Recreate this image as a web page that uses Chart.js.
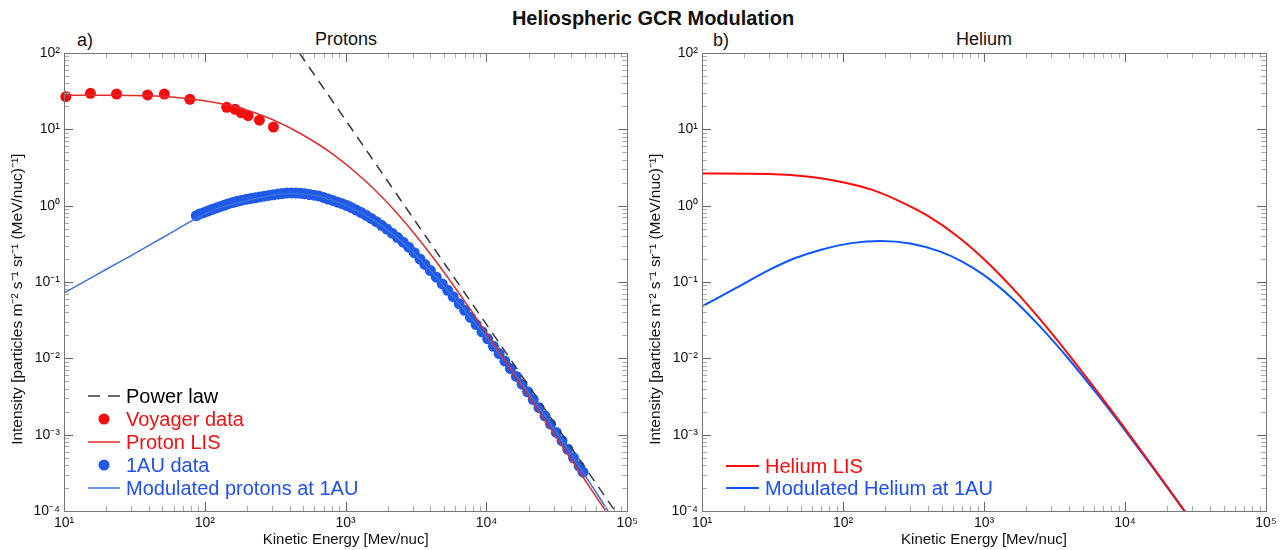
<!DOCTYPE html>
<html>
<head>
<meta charset="utf-8">
<script src="https://cdn.jsdelivr.net/npm/chart.js@4.4.1/dist/chart.umd.min.js"></script>
<style>
  body { margin: 0; background: #fff; width: 1284px; height: 550px; overflow: hidden; position: relative;
         font-family: 'Liberation Sans', Arial, sans-serif; }
  .panel { position: absolute; top: 0; width: 642px; height: 550px; }
  .txt { position: absolute; white-space: nowrap; color: #111; line-height: 1; }
</style>
</head>
<body>
<div class="txt" style="left:453px;width:400px;text-align:center;top:8px;font-size:20px;font-weight:bold;">Heliospheric GCR Modulation</div>
<div class="txt" style="left:77px;top:31px;font-size:18px;">a)</div>
<div class="txt" style="left:246px;width:200px;text-align:center;top:30px;font-size:18px;">Protons</div>
<div class="txt" style="left:713px;top:31px;font-size:18px;">b)</div>
<div class="txt" style="left:884px;width:200px;text-align:center;top:30px;font-size:18px;">Helium</div>
<div class="panel" style="left:0"><canvas id="protons" width="642" height="550"></canvas></div>
<div class="panel" style="left:642px"><canvas id="helium" width="642" height="550"></canvas></div>
<script>
// axes
const xDecades = [10, 100, 1000, 10000, 100000];
const xDecadeLabels = ['10¹', '10²', '10³', '10⁴', '10⁵'];
const yDecades = [1e-4, 1e-3, 1e-2, 1e-1, 1, 10, 100];
const yDecadeLabels = ['10⁻⁴', '10⁻³', '10⁻²', '10⁻¹', '10⁰', '10¹', '10²'];

// a) protons
const powerLawE = [469, 81800];
const powerLawI = [100, 1e-4];

const voyagerE = [10.3, 15.4, 23.6, 39.2, 51.6, 78.3, 143, 164, 181, 203, 244, 307];
const voyagerI = [26.8, 29.6, 29.0, 28.2, 29.0, 24.7, 19.4, 18.3, 16.5, 15.1, 13.2, 10.7];

const protonLisE = [10, 20, 40, 80, 150, 270, 469, 802, 1396, 2393, 4096, 7010, 12200, 29900, 73300, 90000];
const protonLisI = [28, 28, 27.5, 25, 20.5, 14.6, 8.96, 4.80, 2.07, 0.743, 0.219, 0.0557, 0.01235, 0.00105, 0.000089, 0.000051];

const au1E = [87, 92, 98, 105, 112, 120, 128, 137, 147, 158, 170, 183, 197, 212, 228, 245, 264, 284, 306, 330, 355, 382, 412, 444, 478, 515, 555, 598, 645, 695, 750, 810, 875, 945, 1020, 1100, 1190, 1290, 1400, 1520, 1650, 1800, 1960, 2140, 2340, 2560, 2800, 3070, 3370,
  3650, 4000, 4400, 4850, 5300, 5800, 6400, 7000, 7700, 8450, 9300, 10200, 11200, 12300, 13500, 14800, 16300, 17900, 19600, 21500, 23600, 26000, 28500, 31300, 34400, 37800, 41500, 45500, 48500];
const au1I = [0.74, 0.78, 0.81, 0.85, 0.89, 0.93, 0.97, 1.01, 1.06, 1.10, 1.14, 1.18, 1.21, 1.24, 1.27, 1.30, 1.33, 1.36, 1.39, 1.42, 1.44, 1.46, 1.47, 1.46, 1.45, 1.43, 1.40, 1.37, 1.34, 1.28, 1.22, 1.17, 1.11, 1.06, 1.005, 0.942, 0.877, 0.811, 0.745, 0.68, 0.617, 0.552, 0.493, 0.436, 0.382, 0.332, 0.286, 0.242, 0.20,
  0.170, 0.141, 0.1156, 0.0942, 0.078, 0.0642, 0.0518, 0.0425, 0.0343, 0.0277, 0.0223, 0.018, 0.0144, 0.01153, 0.0092, 0.00736, 0.0058, 0.00459, 0.00365, 0.00288, 0.00226, 0.00176, 0.00138, 0.00107, 0.000832, 0.000644, 0.000498, 0.000386, 0.000322];

const modProtonE = [10, 15, 20, 30, 50, 87, 115, 150, 250, 400, 650, 1000, 1600, 2400, 3300, 4600, 6200, 8400, 11600, 16000, 21000, 27600, 36400, 47200, 60000, 75000];
const modProtonI = [0.072, 0.109, 0.147, 0.222, 0.38, 0.68, 0.88, 1.02, 1.28, 1.44, 1.32, 1.01, 0.638, 0.362, 0.206, 0.105, 0.0555, 0.0281, 0.01325, 0.00607, 0.00306, 0.0015, 0.000714, 0.000344, 0.000176, 0.000092];

// b) helium
const heliumLisE = [10, 30, 60, 100, 160, 240, 400, 650, 1000, 1600, 2500, 4000, 6500, 10000, 16000, 26000, 30000];
const heliumLisI = [2.64, 2.60, 2.38, 2.03, 1.62, 1.19, 0.733, 0.395, 0.199, 0.0826, 0.0324, 0.01114, 0.00348, 0.0012, 0.000366, 0.000104, 0.000072];

const modHeliumE = [10, 19, 30, 45, 70, 115, 185, 300, 490, 700, 1000, 1600, 2500, 4000, 6500, 10000, 16000, 25000, 30000];
const modHeliumI = [0.048, 0.091, 0.144, 0.203, 0.265, 0.323, 0.345, 0.32, 0.25, 0.185, 0.123, 0.060, 0.026, 0.00973, 0.00321, 0.00114, 0.000356, 0.000115, 0.000072];

const pairs = (xs, ys) => xs.map((x, i) => ({ x: x, y: ys[i] }));

function withMinor(decades) {
  const out = [];
  decades.forEach((d, i) => {
    out.push({ value: d });
    if (i < decades.length - 1) for (let k = 2; k < 10; k++) out.push({ value: k * d });
  });
  return out;
}

Chart.defaults.font.family = "'Liberation Sans', Arial, sans-serif";
Chart.defaults.color = '#111';

// box around the plot with inward ticks on all four sides
const frameTicks = {
  id: 'frameTicks',
  afterDatasetsDraw(chart) {
    const { ctx, chartArea: a, scales: { x, y } } = chart;
    ctx.save();
    ctx.lineWidth = 1;
    const seg = (x1, y1, x2, y2) => { ctx.beginPath(); ctx.moveTo(x1, y1); ctx.lineTo(x2, y2); ctx.stroke(); };
    x.ticks.forEach(t => {
      const major = xDecades.includes(t.value);
      const px = Math.round(x.getPixelForValue(t.value)) + 0.5;
      ctx.strokeStyle = major ? '#666' : '#aaa';
      const len = major ? 9 : 5;
      seg(px, a.bottom, px, a.bottom - len);
      seg(px, a.top, px, a.top + len);
    });
    y.ticks.forEach(t => {
      const major = yDecades.includes(t.value);
      const py = Math.round(y.getPixelForValue(t.value)) + 0.5;
      ctx.strokeStyle = major ? '#666' : '#aaa';
      const len = major ? 9 : 5;
      seg(a.left, py, a.left + len, py);
      seg(a.right, py, a.right - len, py);
    });
    ctx.strokeStyle = '#777';
    ctx.strokeRect(Math.round(a.left) + 0.5, Math.round(a.top) + 0.5, Math.round(a.right - a.left), Math.round(a.bottom - a.top));
    ctx.restore();
  }
};

// legend drawn inside the plot, lower left
const insideLegend = {
  id: 'insideLegend',
  afterDraw(chart, args, opts) {
    const { ctx, chartArea: a } = chart;
    const items = chart.data.datasets.filter(d => d.legendRank).sort((p, q) => p.legendRank - q.legendRank);
    ctx.save();
    ctx.font = opts.fontSize + "px 'Liberation Sans', Arial, sans-serif";
    ctx.textBaseline = 'middle';
    items.forEach((d, i) => {
      const yy = a.bottom - opts.firstRow + i * opts.rowGap;
      const x0 = a.left + opts.symStart, x1 = a.left + opts.symEnd;
      if (d.showLine === false) {
        ctx.fillStyle = d.pointBackgroundColor;
        ctx.beginPath(); ctx.arc((x0 + x1) / 2, yy, d.pointRadius, 0, Math.PI * 2); ctx.fill();
      } else {
        ctx.strokeStyle = d.borderColor;
        ctx.lineWidth = d.borderWidth;
        ctx.setLineDash(d.legendDash || []);
        ctx.beginPath(); ctx.moveTo(x0, yy); ctx.lineTo(x1, yy); ctx.stroke();
        ctx.setLineDash([]);
      }
      ctx.fillStyle = d.legendColor;
      ctx.fillText(d.label, a.left + opts.textStart, yy + 1);
    });
    ctx.restore();
  }
};

function makePanel(id, datasets, pad, yWidth, yTitlePad, legendOpts) {
  return new Chart(document.getElementById(id), {
    type: 'line',
    data: { datasets: datasets },
    plugins: [frameTicks, insideLegend],
    options: {
      responsive: false,
      animation: false,
      events: [],
      layout: { padding: pad },
      plugins: { legend: { display: false }, tooltip: { enabled: false }, insideLegend: legendOpts },
      scales: {
        x: {
          type: 'logarithmic', min: 10, max: 100000,
          grid: { display: false, drawTicks: false },
          border: { display: false },
          afterBuildTicks: s => { s.ticks = withMinor(xDecades); },
          afterFit: s => { s.height = 39; },
          ticks: {
            autoSkip: false, maxRotation: 0, padding: 4, font: { size: 14 },
            callback: v => { const i = xDecades.indexOf(v); return i >= 0 ? xDecadeLabels[i] : ''; }
          },
          title: { display: true, text: 'Kinetic Energy [Mev/nuc]', font: { size: 15 }, padding: { top: 0, bottom: 1 } }
        },
        y: {
          type: 'logarithmic', min: 1e-4, max: 100,
          grid: { display: false, drawTicks: false },
          border: { display: false },
          afterBuildTicks: s => { s.ticks = withMinor(yDecades); },
          afterFit: s => { s.width = yWidth; },
          ticks: {
            autoSkip: false, padding: 4, font: { size: 14 },
            callback: v => { const i = yDecades.indexOf(v); return i >= 0 ? yDecadeLabels[i] : ''; }
          },
          title: { display: true, text: 'Intensity [particles m⁻² s⁻¹ sr⁻¹ (MeV/nuc)⁻¹]        ', font: { size: 15.5 }, padding: { top: yTitlePad, bottom: 0 } }
        }
      }
    }
  });
}

makePanel('protons', [
  { label: 'Power law', data: pairs(powerLawE, powerLawI), borderColor: '#3a3a3a', borderWidth: 1.5, borderDash: [10, 7],
    legendDash: [12, 8], pointRadius: 0, order: 1, legendRank: 1, legendColor: '#000' },
  { label: 'Voyager data', data: pairs(voyagerE, voyagerI), showLine: false, pointRadius: 5.5, pointBorderWidth: 0,
    pointBackgroundColor: '#f50d0d', borderColor: '#f50d0d', clip: false, order: 3, legendRank: 2, legendColor: '#f01010' },
  { label: 'Proton LIS', data: pairs(protonLisE, protonLisI), borderColor: '#e32b2b', borderWidth: 1.5, pointRadius: 0,
    cubicInterpolationMode: 'monotone', order: 2, legendRank: 3, legendColor: '#f01010' },
  { label: '1AU data', data: pairs(au1E, au1I), showLine: false, pointRadius: 5.5, pointBorderWidth: 0,
    pointBackgroundColor: '#1f5ae8', borderColor: '#1f5ae8', order: 5, legendRank: 4, legendColor: '#2050f0' },
  { label: 'Modulated protons at 1AU', data: pairs(modProtonE, modProtonI), borderColor: '#3b72dd', borderWidth: 1.5, pointRadius: 0,
    cubicInterpolationMode: 'monotone', order: 4, legendRank: 5, legendColor: '#2050f0' }
], { left: 0, right: 13, top: 53, bottom: 0 }, 64, 8,
{ fontSize: 20, firstRow: 115, rowGap: 23, symStart: 24, symEnd: 56, textStart: 62 });

makePanel('helium', [
  { label: 'Helium LIS', data: pairs(heliumLisE, heliumLisI), borderColor: '#ff0a0a', borderWidth: 2, pointRadius: 0,
    cubicInterpolationMode: 'monotone', order: 1, legendRank: 1, legendColor: '#ff0a0a' },
  { label: 'Modulated Helium at 1AU', data: pairs(modHeliumE, modHeliumI), borderColor: '#0a55ff', borderWidth: 2, pointRadius: 0,
    cubicInterpolationMode: 'monotone', order: 2, legendRank: 2, legendColor: '#1a4dff' }
], { left: 0, right: 18, top: 53, bottom: 0 }, 60, 4,
{ fontSize: 20, firstRow: 45, rowGap: 22, symStart: 24, symEnd: 57, textStart: 63 });
</script>
</body>
</html>
